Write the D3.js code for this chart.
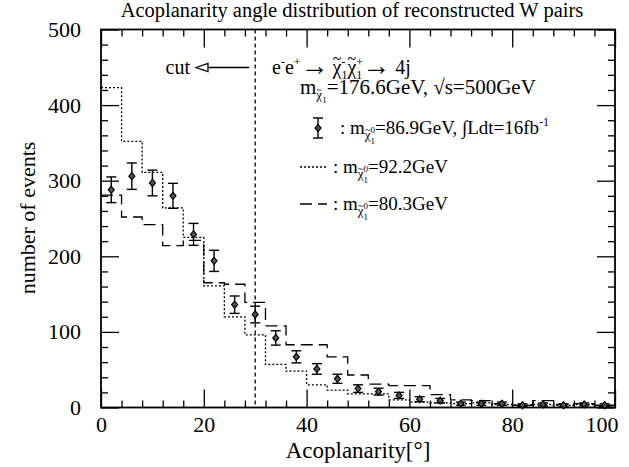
<!DOCTYPE html>
<html>
<head>
<meta charset="utf-8">
<script src="https://cdn.jsdelivr.net/npm/d3@7/dist/d3.min.js"></script>
<style>
  body { margin: 0; background: #fff; }
  text { font-family: "Liberation Serif", "Times New Roman", "DejaVu Serif", serif; fill: #000; }
</style>
</head>
<body>
<svg id="chart" width="629" height="467"></svg>
<script>
// Histogram bin edges (degrees) and bin centres
const binEdges = [0, 4, 8, 12, 16, 20, 24, 28, 32, 36, 40, 44, 48, 52, 56, 60, 64, 68, 72, 76, 80, 84, 88, 92, 96, 100];
const binCenters = [2, 6, 10, 14, 18, 22, 26, 30, 34, 38, 42, 46, 50, 54, 58, 62, 66, 70, 74, 78, 82, 86, 90, 94, 98];

// m(chi0) = 86.9 GeV, 16 fb^-1: event counts and their errors
const dataValues = [288, 306, 297, 280, 229, 194, 136, 123, 92, 67, 51, 38, 25, 21, 16, 11, 9, 5, 5, 5, 3, 4, 3, 4, 3];
const dataErrors = [17, 17.5, 17, 16.5, 14.5, 14, 11.5, 11, 9.5, 8, 7, 6, 5, 4.5, 4, 3.3, 3, 2.2, 2.2, 2.2, 1.8, 2, 1.8, 2, 1.8];

// m(chi0) = 92.2 GeV (dotted histogram)
const dottedValues = [423, 352, 311, 264, 225, 161, 120, 96, 57, 48, 30, 23, 18, 18, 10, 7, 6, 5, 6, 4, 3, 4, 3, 4, 2];
// m(chi0) = 80.3 GeV (dashed histogram)
const dashedValues = [281, 252, 242, 214, 221, 165, 163, 139, 108, 83, 83, 67, 43, 31, 29, 29, 17, 10, 9, 5, 3, 9, 4, 5, 3];

// Axis ticks
const xMajor = [0, 20, 40, 60, 80, 100];
const xMinor = [4, 8, 12, 16, 24, 28, 32, 36, 44, 48, 52, 56, 64, 68, 72, 76, 84, 88, 92, 96];
const yMajor = [0, 100, 200, 300, 400, 500];
const yMinor = [20, 40, 60, 80, 120, 140, 160, 180, 220, 240, 260, 280, 320, 340, 360, 380, 420, 440, 460, 480];
const cutValue = 30;

const svg = d3.select("#chart");
const L = 101, R = 615, T = 29.5, B = 407.5;

const x = d3.scaleLinear().domain([0, 100]).range([L, R]);
const y = d3.scaleLinear().domain([0, 500]).range([B, T]);

const MAJ = 18, MIN = 7;

// ---- axes (ticks point inward on all four sides) ----
function tickAxis(axisFn, scale, values, size, pos, padding) {
  const a = axisFn(scale).tickValues(values).tickSizeInner(-size).tickSizeOuter(0);
  if (padding) a.tickPadding(padding); else a.tickFormat("");
  const g = svg.append("g").attr("transform", pos).call(a);
  g.select(".domain").remove();
  g.selectAll(".tick line").attr("stroke", "#000").attr("stroke-width", 1.3);
  g.selectAll("text").attr("font-size", 22).attr("font-family", "Liberation Serif, serif");
  return g;
}
const xAxisG = tickAxis(d3.axisBottom, x, xMajor, MAJ, `translate(0,${B})`, 9);
// keep the last label inside the figure edge
xAxisG.selectAll(".tick text").filter(d => d === 100).attr("text-anchor", "end").attr("x", 3);
tickAxis(d3.axisBottom, x, xMinor, MIN, `translate(0,${B})`, 0);
tickAxis(d3.axisTop, x, xMajor, MAJ, `translate(0,${T})`, 0);
tickAxis(d3.axisTop, x, xMinor, MIN, `translate(0,${T})`, 0);
tickAxis(d3.axisLeft, y, yMajor, MAJ, `translate(${L},0)`, 20);
tickAxis(d3.axisLeft, y, yMinor, MIN, `translate(${L},0)`, 0);
tickAxis(d3.axisRight, y, yMajor, MAJ, `translate(${R},0)`, 0);
tickAxis(d3.axisRight, y, yMinor, MIN, `translate(${R},0)`, 0);

// frame
svg.append("rect").attr("x", L).attr("y", T).attr("width", R - L).attr("height", B - T)
  .attr("fill", "none").attr("stroke", "#000").attr("stroke-width", 1.8);

// ---- histograms ----
const step = d3.line().x(d => x(d[0])).y(d => y(d[1])).curve(d3.curveStepAfter);
function histPoints(vals) {
  return binEdges.map((e, i) => [e, vals[Math.min(i, vals.length - 1)]]);
}
svg.append("path").datum(histPoints(dottedValues)).attr("d", step)
  .attr("fill", "none").attr("stroke", "#000").attr("stroke-width", 1.3).attr("stroke-dasharray", "2,2");
svg.append("path").datum(histPoints(dashedValues)).attr("d", step)
  .attr("fill", "none").attr("stroke", "#000").attr("stroke-width", 1.3).attr("stroke-dasharray", "12,6");

// ---- cut line ----
svg.append("line").attr("x1", x(cutValue)).attr("x2", x(cutValue)).attr("y1", T).attr("y2", B)
  .attr("stroke", "#000").attr("stroke-width", 1.3).attr("stroke-dasharray", "4,3");

// ---- data points with error bars ----
function errorMarker(g, cx, cy, top, bot) {
  g.append("line").attr("x1", cx).attr("x2", cx).attr("y1", top).attr("y2", bot)
    .attr("stroke", "#000").attr("stroke-width", 1.4);
  [top, bot].forEach(v => g.append("line").attr("x1", cx - 5).attr("x2", cx + 5).attr("y1", v).attr("y2", v)
    .attr("stroke", "#000").attr("stroke-width", 1.4));
  g.append("path").attr("d", `M${cx},${cy - 3.5}L${cx + 3},${cy}L${cx},${cy + 3.5}L${cx - 3},${cy}Z`)
    .attr("fill", "#555").attr("stroke", "#000").attr("stroke-width", 1.2);
}
const pts = svg.append("g");
binCenters.forEach((c, i) => {
  errorMarker(pts, x(c), y(dataValues[i]), y(dataValues[i] + dataErrors[i]), y(dataValues[i] - dataErrors[i]));
});

// ---- text with sub/superscripts ----
function rich(g, x0, y0, parts, base) {
  let cx = x0;
  parts.forEach(p => {
    const size = p.size || base;
    cx += (p.gap || 0);
    const t = g.append("text").attr("x", cx).attr("y", y0 + (p.dy || 0))
      .attr("font-size", size).text(p.t);
    const w = t.node().getComputedTextLength();
    if (p.tilde) {
      g.append("text").attr("x", cx + w / 2).attr("y", y0 + (p.dy || 0) - size * 0.5)
        .attr("font-size", size * 0.8).attr("text-anchor", "middle").text("~");
    }
    if (!p.stay) cx += w + (p.after || 0);
  });
  return cx;
}

const ann = svg.append("g");
const F = 20;
// cut arrow
ann.append("text").attr("x", 190).attr("y", 74).attr("font-size", F).attr("text-anchor", "end").text("cut");
ann.append("line").attr("x1", 208).attr("x2", x(cutValue) - 6).attr("y1", 67.5).attr("y2", 67.5)
  .attr("stroke", "#000").attr("stroke-width", 1.3);
ann.append("path").attr("d", "M196,67.5L208,63.5L208,71.5Z").attr("fill", "#fff")
  .attr("stroke", "#000").attr("stroke-width", 1.3);

// process line
rich(ann, 272, 74, [
  { t: "e" }, { t: "-", size: 12, dy: -8 }, { t: "e" }, { t: "+", size: 12, dy: -8 },
  { t: "\u2192", size: 28, dy: 1, after: 4 }, { t: "\u03c7", tilde: true },
  { t: "-", size: 12, dy: -8, stay: true }, { t: "1", size: 12, dy: 5 },
  { t: "\u03c7", tilde: true },
  { t: "+", size: 12, dy: -8, stay: true }, { t: "1", size: 12, dy: 5 },
  { t: "\u2192", size: 28, dy: 1, after: 5 },
  { t: "4j" }
], F);

rich(ann, 300, 94, [
  { t: "m", size: 21 }, { t: "\u03c7", size: 13, dy: 5, tilde: true }, { t: "1", size: 9, dy: 9 },
  { t: "=176.6GeV, \u221as=500GeV", size: 21 }
], F);

// legend
const LF = 19;
function massLabel(x0, y0, tail) {
  return rich(ann, x0, y0, [
    { t: ": m" }, { t: "\u03c7", size: 13, dy: 5, tilde: true },
    { t: "0", size: 9, dy: -1, stay: true }, { t: "1", size: 9, dy: 10 },
    ...tail
  ], LF);
}
errorMarker(ann, 318, 128, 118, 138);
massLabel(340, 134, [{ t: "=86.9GeV, \u222bLdt=16fb" }, { t: "-1", size: 12, dy: -8 }]);

ann.append("line").attr("x1", 300).attr("x2", 327).attr("y1", 167).attr("y2", 167)
  .attr("stroke", "#000").attr("stroke-width", 1.3).attr("stroke-dasharray", "2,2");
massLabel(333, 173, [{ t: "=92.2GeV" }]);

ann.append("line").attr("x1", 300).attr("x2", 327).attr("y1", 204).attr("y2", 204)
  .attr("stroke", "#000").attr("stroke-width", 1.3).attr("stroke-dasharray", "12,6");
massLabel(333, 210, [{ t: "=80.3GeV" }]);

// ---- titles ----
svg.append("text").attr("x", 352).attr("y", 17).attr("text-anchor", "middle").attr("font-size", 20.5)
  .text("Acoplanarity angle distribution of reconstructed W pairs");
svg.append("text").attr("x", 358).attr("y", 458).attr("text-anchor", "middle").attr("font-size", 23)
  .text("Acoplanarity[\u00b0]");
svg.append("text").attr("transform", "translate(35,218) rotate(-90)").attr("text-anchor", "middle")
  .attr("font-size", 22).text("number of events");
</script>
</body>
</html>
